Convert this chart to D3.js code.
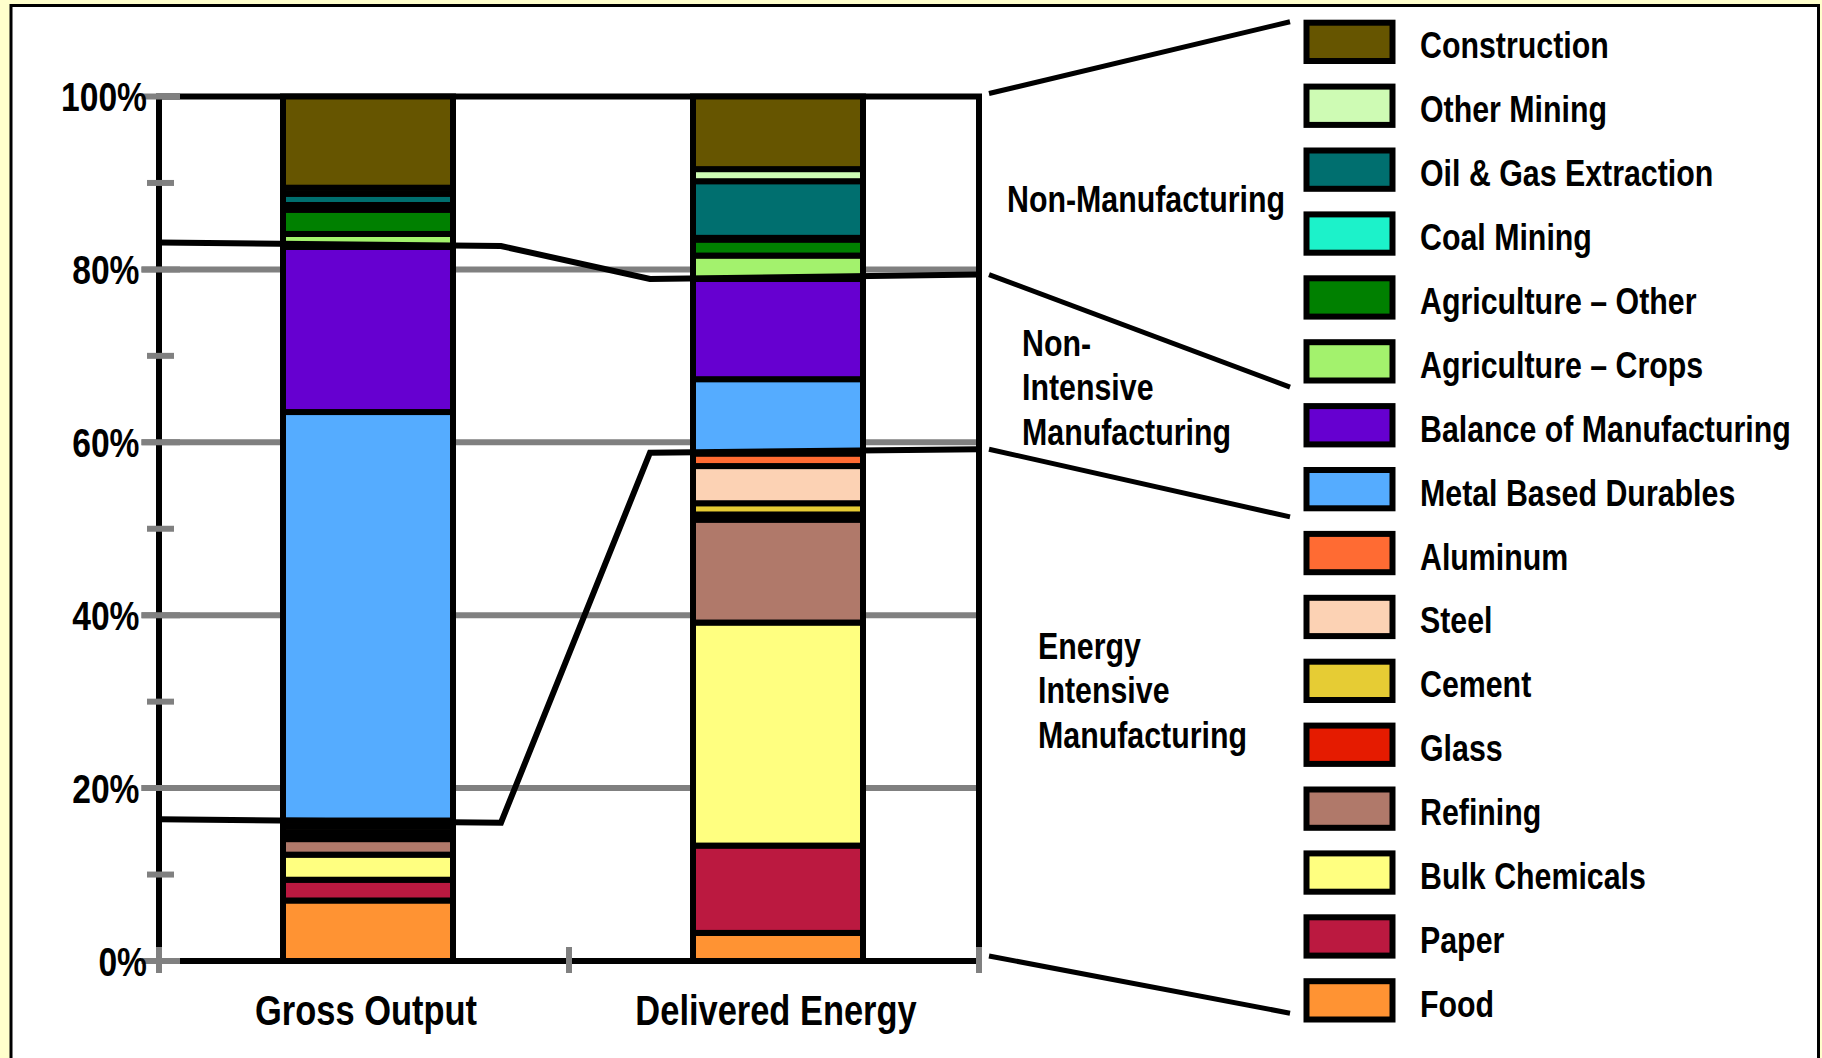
<!DOCTYPE html>
<html><head><meta charset="utf-8">
<script src="https://cdn.jsdelivr.net/npm/d3@7"></script>
<style>html,body{margin:0;padding:0;background:#FFFFCC;} svg{display:block}</style>
</head><body>
<svg id="chart" width="1822" height="1058"></svg>
<script>
// ---------- DATA ----------
const categories = ["Gross Output", "Delivered Energy"];
// stacking order, bottom to top
const sectors = ["Food", "Paper", "Bulk Chemicals", "Refining", "Glass", "Cement", "Steel", "Aluminum",
  "Metal Based Durables", "Balance of Manufacturing", "Agriculture – Crops", "Agriculture – Other",
  "Coal Mining", "Oil & Gas Extraction", "Other Mining", "Construction"];
const grossOutput =     [7.0, 2.4, 2.9, 1.8, 0.35, 0.4, 0.7, 0.7, 47.25, 19.1, 1.5, 2.8, 0.55, 1.3, 0.7, 10.55];
const deliveredEnergy = [3.25, 10.1, 25.8, 11.9, 0.6, 1.3, 4.3, 1.45, 8.6, 11.6, 2.7, 1.85, 0.2, 6.55, 1.4, 8.4];
const sectorColors = ["#FF9333", "#BB1940", "#FFFF80", "#B0796A", "#E51B00", "#E6CC34", "#FCD2B4", "#FF6B33",
  "#55ACFF", "#6600D0", "#A3F26D", "#008000", "#1CF2CA", "#006F6F", "#CEFBB4", "#665500"];
const yMajorTicks = [0, 20, 40, 60, 80, 100];
const yMinorTicks = [10, 30, 50, 70, 90];
// group divider lines (percent): axis, after Gross bar, before Delivered bar, right edge
const nonMfgLine = [83.1, 82.7, 78.9, 79.4];
const energyIntLine = [16.4, 16.0, 58.8, 59.2];
const groupLabelLines = [["Non-Manufacturing"], ["Non-", "Intensive", "Manufacturing"], ["Energy", "Intensive", "Manufacturing"]];

// ---------- LAYOUT ----------
const FONT = '"Liberation Sans", Arial, Helvetica, sans-serif';
const NARROW = 0.82; // horizontal condensing to mimic a narrow bold face
const GRAY = "#808080";
const svg = d3.select("#chart");
const plot = {left: 159, right: 979, top: 96.5, bottom: 961};

// condensed text helper: draws text anchored at (x, y), squeezed horizontally
function narrowText(parent, x, y, size, anchor, lines, lineGap) {
  const g = parent.append("g").attr("transform", `translate(${x},${y}) scale(${NARROW},1)`);
  const t = g.append("text").attr("font-family", FONT).attr("font-weight", "bold")
    .attr("font-size", size).attr("fill", "#000").attr("text-anchor", anchor);
  lines.forEach((ln, i) => t.append("tspan").attr("x", 0).attr("y", i * (lineGap || 0)).text(ln));
  return g;
}

svg.append("rect").attr("x", 0).attr("y", 0).attr("width", 1822).attr("height", 1058).attr("fill", "#FFFFCC");
svg.append("rect").attr("x", 11).attr("y", 5.5).attr("width", 1807.5).attr("height", 1070)
  .attr("fill", "#fff").attr("stroke", "#000").attr("stroke-width", 3);

const y = d3.scaleLinear().domain([0, 100]).range([plot.bottom, plot.top]);
const x = d3.scaleBand().domain(categories).range([plot.left, plot.right]).padding(0);
const barW = 170, barOffset = 4;
const barCenter = c => x(c) + x.bandwidth() / 2 + barOffset;

// gridlines
svg.append("g").selectAll("line").data(yMajorTicks.filter(d => d > 0 && d < 100)).join("line")
  .attr("x1", 141.5).attr("x2", plot.right).attr("y1", d => y(d)).attr("y2", d => y(d))
  .attr("stroke", GRAY).attr("stroke-width", 6);

// frame
svg.append("path").attr("d", `M${plot.left},${y(100)}H${plot.right}V${y(0)}H${plot.left}Z`)
  .attr("fill", "none").attr("stroke", "#000").attr("stroke-width", 6);

// y ticks
svg.append("g").selectAll("line").data(yMajorTicks).join("line")
  .attr("x1", 141.5).attr("x2", 180).attr("y1", d => y(d)).attr("y2", d => y(d))
  .attr("stroke", GRAY).attr("stroke-width", 6);
svg.append("g").selectAll("line").data(yMinorTicks).join("line")
  .attr("x1", 147).attr("x2", 174).attr("y1", d => y(d)).attr("y2", d => y(d))
  .attr("stroke", GRAY).attr("stroke-width", 6);
// x ticks at band boundaries
const xBounds = [...categories.map(c => x(c)), plot.right];
svg.append("g").selectAll("line").data(xBounds).join("line")
  .attr("x1", d => d).attr("x2", d => d).attr("y1", 947).attr("y2", 973)
  .attr("stroke", GRAY).attr("stroke-width", 6);

// y tick labels
const tickLabels = svg.append("g");
yMajorTicks.forEach(d => {
  narrowText(tickLabels, (d === 0 || d === 100) ? 147 : 139.5, y(d) + 14.7, 41, "end", [d + "%"]);
});

// stacked bars
const rows = categories.map((c, i) => {
  const vals = i === 0 ? grossOutput : deliveredEnergy;
  const o = {category: c};
  sectors.forEach((s, j) => o[s] = vals[j]);
  return o;
});
const stack = d3.stack().keys(sectors)(rows);
const color = d3.scaleOrdinal().domain(sectors).range(sectorColors);
svg.append("g").selectAll("g").data(stack).join("g")
  .attr("fill", d => color(d.key))
  .selectAll("rect").data(d => d).join("rect")
  .attr("x", d => barCenter(d.data.category) - barW / 2)
  .attr("width", barW)
  .attr("y", d => y(d[1]))
  .attr("height", d => y(d[0]) - y(d[1]))
  .attr("stroke", "#000").attr("stroke-width", 6);

// group divider lines
const grossRight = barCenter(categories[0]) + barW / 2 + 3;
const delivLeft = barCenter(categories[1]) - barW / 2 - 3;
const lineXs = [plot.left, grossRight + 45, delivLeft - 40, plot.right];
const lineGen = d3.line().x((d, i) => lineXs[i]).y(d => y(d));
[nonMfgLine, energyIntLine].forEach(arr => {
  svg.append("path").attr("d", lineGen(arr)).attr("fill", "none")
    .attr("stroke", "#000").attr("stroke-width", 6).attr("stroke-linejoin", "miter");
});

// category labels
const catLabels = svg.append("g");
categories.forEach(c => narrowText(catLabels, x(c) + x.bandwidth() / 2 + 2, 1025, 42, "middle", [c]));

// legend (top to bottom = reverse of stacking order)
const legendItems = sectors.slice().reverse();
const rowTop = i => 19.7 + i * 63.9;
const lg = svg.append("g");
lg.selectAll("rect").data(legendItems).join("rect")
  .attr("x", 1306.5).attr("y", (d, i) => rowTop(i) + 3).attr("width", 86).attr("height", 38.3)
  .attr("fill", d => color(d)).attr("stroke", "#000").attr("stroke-width", 6);
legendItems.forEach((d, i) => narrowText(lg, 1420, rowTop(i) + 22.15 + 16.5, 37, "start", [d]));

// connectors from plot to legend
const connX1 = plot.right + 10, connX2 = 1290;
const connectors = [
  [y(100) - 3, rowTop(0) + 2],
  [y(nonMfgLine[3]), rowTop(6) - 16],
  [y(energyIntLine[3]), rowTop(8) - 14],
  [y(0) - 5, rowTop(15) + 35]
];
svg.append("g").selectAll("line").data(connectors).join("line")
  .attr("x1", connX1).attr("x2", connX2).attr("y1", d => d[0]).attr("y2", d => d[1])
  .attr("stroke", "#000").attr("stroke-width", 5);

// group labels
const groupLabelPos = [{x: 1007, y: 212}, {x: 1022, y: 356}, {x: 1038, y: 659}];
const gl = svg.append("g");
groupLabelLines.forEach((lines, gi) => narrowText(gl, groupLabelPos[gi].x, groupLabelPos[gi].y, 37, "start", lines, 44.3));
</script>
</body></html>
